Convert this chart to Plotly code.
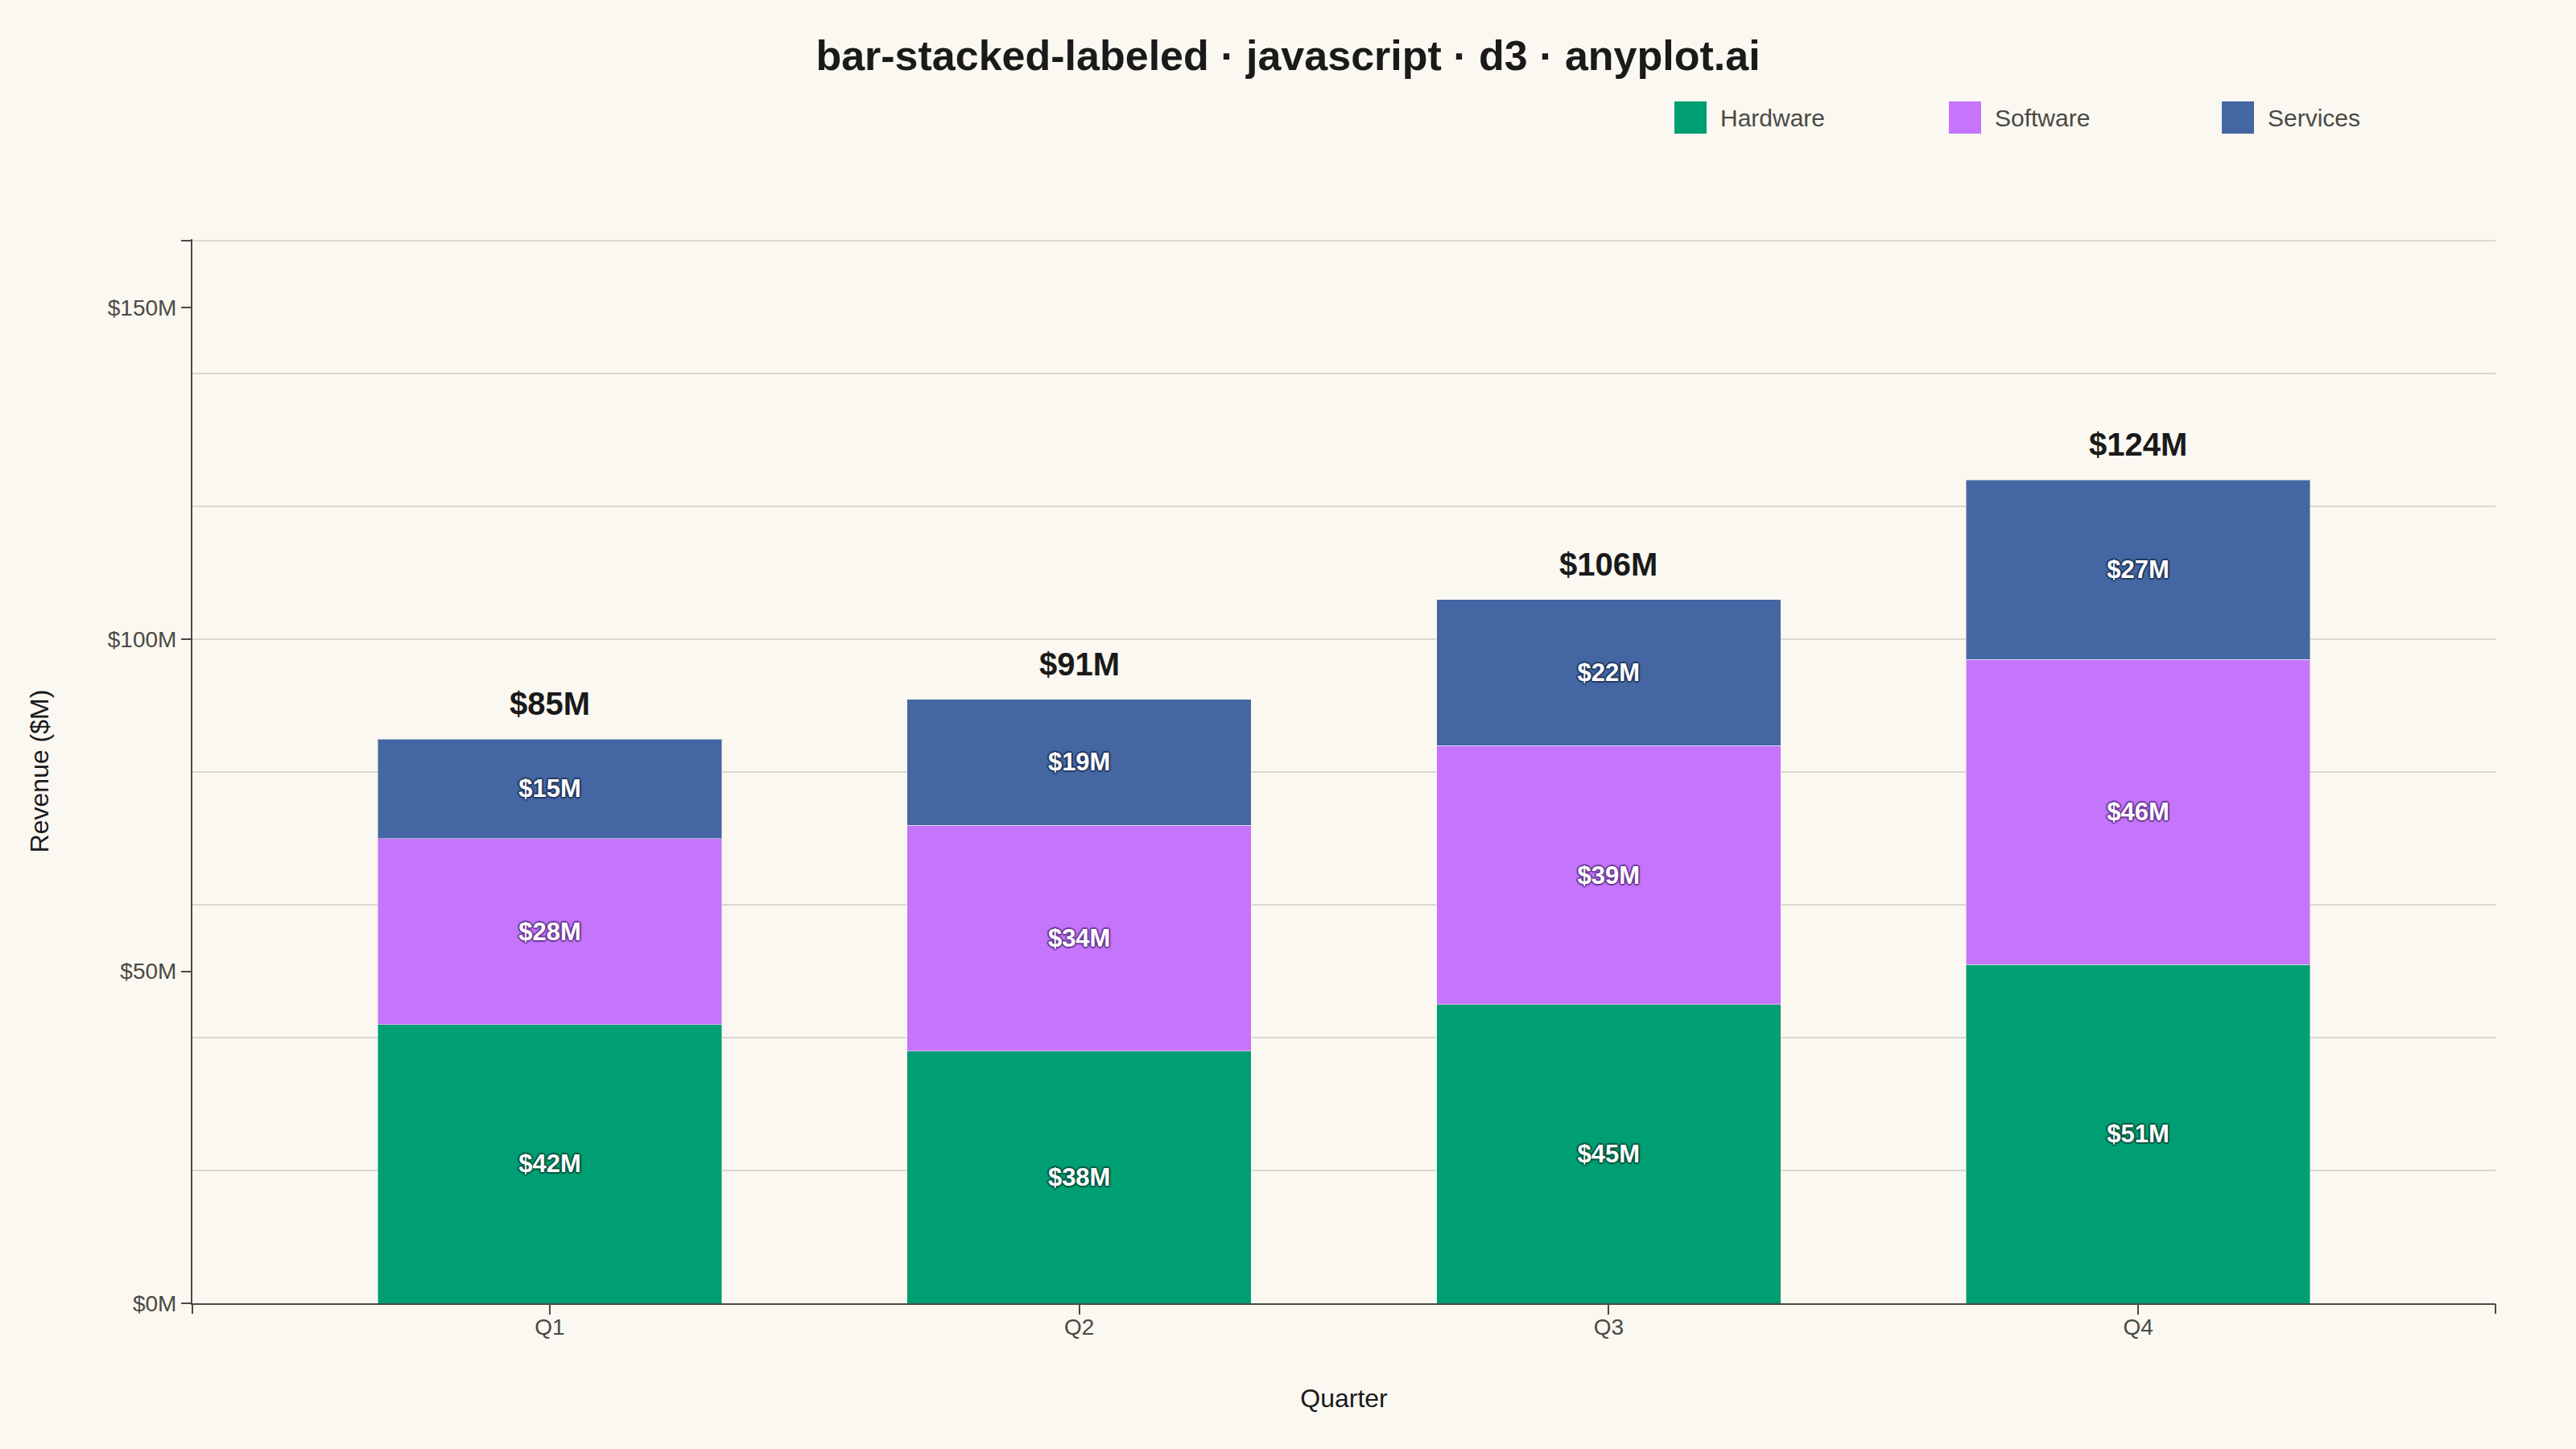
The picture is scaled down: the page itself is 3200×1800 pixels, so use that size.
import plotly.graph_objects as go

# Data
quarters = ["Q1", "Q2", "Q3", "Q4"]
hardware = [42, 38, 45, 51]
software = [28, 34, 39, 46]
services = [15, 19, 22, 27]

series_names = ["Hardware", "Software", "Services"]
series_values = [hardware, software, services]
series_colors = ["#009E73", "#C475FB", "#4467A3"]
outline_colors = ["#00573F", "#6E3A99", "#233A63"]

totals = [h + s + v for h, s, v in zip(hardware, software, services)]

W, H = 3200, 1800
L, R, T, B = 239, 100, 297, 181
FONT = "Liberation Sans, Arial, sans-serif"
BG = "#FAF8F1"
INK = "#1A1A1A"
INK_SOFT = "#4A4A44"
GRID = "#DAD8CF"


def outline(c):
    return ", ".join(f"{dx}px {dy}px 1px {c}" for dx, dy in
                     [(-2, 0), (2, 0), (0, -2), (0, 2), (-1, -1), (1, -1), (-1, 1), (1, 1)])


fig = go.Figure()

for name, vals, col, oc in zip(series_names, series_values, series_colors, outline_colors):
    fig.add_trace(go.Bar(
        name=name,
        x=quarters,
        y=vals,
        width=0.65,
        marker=dict(color=col, line=dict(width=1, color="rgba(250,248,241,0.5)")),
        text=[f"${v}M" for v in vals],
        textposition="inside",
        insidetextanchor="middle",
        textangle=0,
        constraintext="none",
        textfont=dict(family=FONT, size=31, color="white", weight="bold", shadow=outline(oc)),
        showlegend=False,
    ))

# Total labels above each stack
for q, t in zip(quarters, totals):
    fig.add_annotation(
        x=q, y=t, xref="x", yref="y",
        text=f"<b>${t}M</b>",
        showarrow=False, yanchor="bottom", yshift=20,
        font=dict(family=FONT, size=40, color=INK),
    )

# Custom legend (large swatches)
plot_w = W - L - R
plot_h = H - T - B


def px_x(p):
    return (p - L) / plot_w


def px_y(p):
    return (H - B - p) / plot_h


legend_x = [2080, 2421, 2760]
for name, col, lx in zip(series_names, series_colors, legend_x):
    fig.add_shape(type="rect", xref="paper", yref="paper",
                  x0=px_x(lx), x1=px_x(lx + 40), y0=px_y(166), y1=px_y(126),
                  fillcolor=col, line=dict(width=0))
    fig.add_annotation(xref="paper", yref="paper", x=px_x(lx + 55), y=px_y(146),
                       xanchor="left", yanchor="middle", showarrow=False,
                       text=name, font=dict(family=FONT, size=30, color=INK_SOFT))

# Overlay axes only for the d3-style outer ticks and labels
fig.add_trace(go.Scatter(x=[None], y=[None], xaxis="x2", yaxis="y2", showlegend=False, hoverinfo="skip"))

x_range = [-0.675, 3.675]
y_range = [0, 160.3]

fig.update_layout(
    width=W, height=H,
    barmode="stack",
    paper_bgcolor=BG, plot_bgcolor=BG,
    margin=dict(l=L, r=R, t=T, b=B),
    font=dict(family=FONT, color=INK_SOFT),
    title=dict(
        text="<b>bar-stacked-labeled · javascript · d3 · anyplot.ai</b>",
        x=0.5, xanchor="center", xref="container",
        y=1 - 69 / H, yanchor="middle", yref="container",
        font=dict(family=FONT, size=52, color=INK),
    ),
    xaxis=dict(
        type="category", range=x_range,
        showline=True, linecolor=INK_SOFT, linewidth=2,
        ticks="outside", ticklen=12, tickwidth=2, tickcolor=INK_SOFT,
        ticklabelstandoff=-9,
        tickfont=dict(family=FONT, size=28, color=INK_SOFT),
        showgrid=False, zeroline=False,
        title=dict(text="Quarter", standoff=63, font=dict(family=FONT, size=32, color=INK)),
    ),
    xaxis2=dict(
        overlaying="x", anchor="y", side="bottom", range=x_range,
        tickvals=x_range, ticks="outside", ticklen=12, tickwidth=2, tickcolor=INK_SOFT,
        showticklabels=False, showgrid=False, zeroline=False, showline=False,
    ),
    yaxis=dict(
        range=y_range, tickvals=list(range(0, 161, 20)), showgrid=True, gridcolor=GRID, gridwidth=2,
        showticklabels=False, ticks="", zeroline=False, showline=False,
    ),
    yaxis2=dict(
        overlaying="y", anchor="x", side="left", range=y_range,
        tickvals=[0, 50, 100, 150, 160], ticktext=["$0M", "$50M", "$100M", "$150M", ""],
        ticks="outside", ticklen=12, tickwidth=2, tickcolor=INK_SOFT,
        showline=True, linecolor=INK_SOFT, linewidth=2,
        tickfont=dict(family=FONT, size=28, color=INK_SOFT),
        showgrid=False, zeroline=False,
        title=dict(text="Revenue ($M)", standoff=64, font=dict(family=FONT, size=32, color=INK)),
    ),
)

fig.write_html(
    "out.html",
    config={"displayModeBar": False},
    post_script="document.body.style.margin='0';document.body.style.background='#FAF8F1';",
)
